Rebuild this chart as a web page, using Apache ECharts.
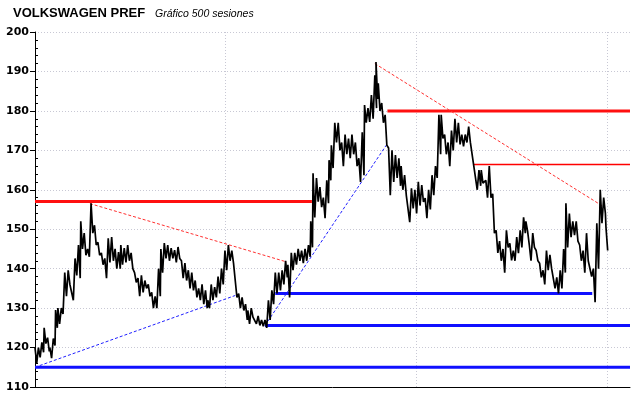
<!DOCTYPE html>
<html>
<head>
<meta charset="utf-8">
<title>Volkswagen Pref</title>
<script src="https://cdn.jsdelivr.net/npm/echarts@6/dist/echarts.min.js"></script>
<style>
  html, body { margin: 0; padding: 0; background: #fff; }
  #chart { width: 640px; height: 398px; }
</style>
</head>
<body>
<div id="chart"></div>
<script>
// session index (0..499), with the high and low of the trace there
const sessions = [
    0, 3, 6, 8, 11, 13, 16, 18, 20, 23, 26, 29, 32, 35, 38, 40, 43, 46, 49, 52,
    55, 58, 61, 64, 67, 70, 73, 75, 78, 81, 84, 87, 90, 93, 96, 99, 102, 105, 108, 110,
    113, 116, 119, 122, 125, 128, 131, 134, 137, 140, 143, 146, 149, 151, 154, 157, 160, 163, 166, 169,
    172, 175, 178, 181, 184, 186, 189, 192, 195, 198, 201, 204, 207, 210, 213, 216, 219, 221, 224, 227,
    230, 233, 236, 239, 241, 243, 246, 249, 252, 255, 257, 259, 262, 265, 268, 271, 274, 277, 280, 283,
    286, 288, 291, 294, 297, 298, 300, 303, 306, 309, 312, 315, 318, 320, 323, 326, 329, 332, 335, 338,
    341, 344, 347, 350, 353, 355, 358, 361, 364, 367, 370, 373, 376, 379, 382, 385, 388, 390, 394, 397,
    400, 403, 406, 409, 412, 415, 418, 421, 424, 427, 429, 432, 435, 438, 441, 444, 447, 450, 453, 456,
    459, 462, 464, 467, 470, 473, 476, 479, 482, 485, 488, 491, 494, 497, 499
];
const highs = [
    120, 120, 121.3, 125, 122.5, 120, 122.3, 129.5, 130, 130, 139, 139.6, 136, 142.6, 146, 152, 149, 145, 156.6, 151,
    146.7, 144, 142.6, 147.7, 148, 145, 144.2, 146, 145.2, 146, 144, 139, 137.6, 138.3, 137, 136, 134, 133, 140, 145,
    146.5, 146, 145.2, 144.7, 145.5, 142, 141.4, 139.6, 139, 137, 135, 136, 134.5, 132, 136, 135.3, 138, 140, 144.6, 146,
    144.6, 137, 133.7, 132.7, 131, 129.4, 130, 128, 128, 127, 127, 132, 134.5, 139, 139, 139.6, 142, 141, 144, 144,
    145, 144.6, 145, 146, 152, 164.2, 163, 160.7, 158, 162.4, 167.5, 171.3, 177, 177, 172, 174, 173, 174, 172, 168,
    174.6, 181.5, 180.7, 184, 189, 192.4, 187, 182, 179, 170.6, 170, 168.8, 168, 166, 163.7, 158.6, 160.4, 160, 162, 161.2,
    157.9, 160, 163.7, 166, 179, 179, 174, 172, 175, 178, 177, 174, 174, 176, 172, 166, 165, 165, 162.4, 166,
    159, 149.7, 147, 145, 149.7, 146.4, 144.6, 148, 149.7, 153, 152, 146, 149, 144.6, 141.4, 139.6, 144.6, 143.5, 139.6, 137.8,
    139.6, 145, 156.6, 154, 152, 152, 146, 144.6, 149, 142, 140, 151.5, 160, 158, 150.5
];
const lows = [
    116, 117.5, 118.8, 121, 119, 117.3, 120.5, 125, 126, 128.5, 133, 136, 132, 138.3, 137.6, 145, 143.4, 143, 149, 146,
    143.4, 141, 137.6, 141.6, 142, 140, 140, 141, 141.6, 142, 140, 136.5, 133, 134, 135, 133, 130, 130, 133, 139,
    142.6, 142, 142.6, 141.6, 142.6, 137.6, 137, 135, 134.5, 132.7, 132, 131, 130, 130, 132, 132.7, 133.7, 136, 139.6, 142,
    141.4, 132.7, 130, 129.4, 127, 126, 127.7, 126, 125.6, 125.4, 125, 127, 131, 133.7, 134.5, 136, 137.8, 132.7, 139.6, 141,
    142, 141.4, 142, 143, 145.4, 153, 157, 155.6, 152.8, 156.6, 162.4, 165.5, 172, 170, 166, 169, 168, 169, 166, 162,
    163.7, 177, 177.2, 178, 180.7, 183, 180, 177, 171.3, 158.6, 162, 163, 161, 160, 158.6, 151.8, 155.3, 154, 156, 156.9,
    152.8, 155, 158.6, 163, 169, 173, 169, 166, 170, 172, 171.5, 171, 172, 172, 166, 160, 161, 161.7, 158, 158,
    149, 144, 142, 139, 145.4, 142.1, 142, 143.9, 145.4, 149, 149.5, 142, 145.4, 142, 137.8, 136, 139.6, 140, 135, 133.7,
    135, 139, 145.4, 148, 148.5, 147, 142, 139, 142, 138, 131.5, 140, 151.5, 154, 144.6
];

// support / resistance levels drawn on the chart: [first session, last session, price]
const redLevels = [[0, 242, 157], [308, 520, 180]];
const redThinLevels = [[383, 520, 166.4]];
const blueLevels = [[0, 520, 115], [210, 487, 133.7], [201, 520, 125.6]];
// trend lines: [[session, price], [session, price]]
const redTrends = [[[48, 156.5], [220, 141.7]], [[297, 192], [497, 155.7]]];
const blueTrends = [[[0, 115], [175, 133.2]], [[201, 125.6], [307, 171.3]]];

const yTicks = { min: 110, max: 200, step: 10 };
const sessionCount = 500;

function priceTrace() {
    const points = [];
    for (let k = 0; k < sessions.length; k++) {
        points.push([sessions[k], highs[k]]);
        points.push([sessions[k] + 1.5, lows[k]]);
    }
    return points;
}

function levelSeries(levels, color, width, type) {
    return levels.map(function (level) {
        return {
            type: 'line',
            data: [[level[0], level[2]], [level[1], level[2]]],
            symbol: 'none',
            silent: true,
            z: 3,
            lineStyle: { color: color, width: width, type: type }
        };
    });
}

function trendSeries(trends, color) {
    return trends.map(function (trend) {
        return {
            type: 'line',
            data: trend,
            symbol: 'none',
            silent: true,
            z: 4,
            lineStyle: { color: color, width: 1, type: [3, 2] }
        };
    });
}

const gridLine = { show: true, lineStyle: { color: '#c8c8d4', type: [1, 2], width: 1 } };

const chart = echarts.init(document.getElementById('chart'), null, { renderer: 'canvas' });
const options = {
    animation: false,
    backgroundColor: '#ffffff',
    title: [{
        text: 'VOLKSWAGEN PREF',
        left: 8,
        top: 2,
        textStyle: { fontFamily: 'Liberation Sans', fontSize: 13, fontWeight: 'bold', color: '#000' }
    }, {
        text: 'Gráfico 500 sesiones',
        left: 150,
        top: 4,
        textStyle: { fontFamily: 'Liberation Sans', fontSize: 10.5, fontStyle: 'italic', fontWeight: 'normal', color: '#000' }
    }],
    grid: { left: 35, right: 10, top: 32, bottom: 11 },
    xAxis: {
        type: 'value',
        min: 0,
        max: 520,
        interval: sessionCount / 3,
        axisLine: { show: true, lineStyle: { color: '#000', width: 1 } },
        axisTick: { show: false },
        axisLabel: { show: false },
        splitLine: Object.assign({ showMinLine: false, showMaxLine: false }, gridLine)
    },
    yAxis: [{
        type: 'value',
        min: yTicks.min,
        max: yTicks.max,
        interval: yTicks.step,
        axisLine: { show: true, lineStyle: { color: '#000', width: 1 } },
        axisTick: { show: true, length: 5, lineStyle: { color: '#000' } },
        axisLabel: {
            margin: 6,
            color: '#000',
            fontFamily: 'DejaVu Sans',
            fontWeight: 'bold',
            fontSize: 11
        },
        splitLine: Object.assign({ showMinLine: false }, gridLine)
    }, {
        type: 'value',
        position: 'left',
        min: yTicks.min,
        max: yTicks.max,
        interval: yTicks.step,
        axisLine: { show: false },
        axisTick: { show: false, inside: true },
        axisLabel: { show: false },
        minorTick: { show: true, splitNumber: 5, length: 3, lineStyle: { color: '#000' } },
        splitLine: { show: false }
    }],
    series: [].concat(
        levelSeries(blueLevels, '#1010ff', 3, 'solid'),
        levelSeries(redLevels, '#ff1010', 3, 'solid'),
        levelSeries(redThinLevels, '#ff0000', 1.5, 'solid'),
        trendSeries(redTrends, '#ff3030'),
        trendSeries(blueTrends, '#2020ff'),
        [{
            type: 'line',
            data: priceTrace(),
            symbol: 'none',
            silent: true,
            z: 5,
            lineStyle: { color: '#000', width: 1.7 }
        }]
    )
};
chart.setOption(options);
</script>
</body>
</html>
